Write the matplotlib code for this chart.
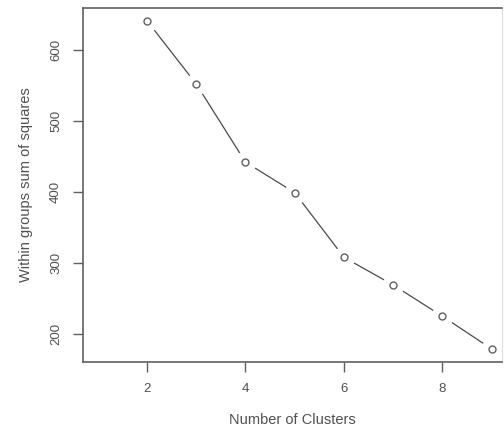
import matplotlib.pyplot as plt

plt.rcParams['font.family'] = ['Liberation Sans', 'DejaVu Sans']

# elbow curve
clusters = [2, 3, 4, 5, 6, 7, 8, 9]
wss = [641, 552, 442, 399, 308, 269, 225, 179]
xticks = [2, 4, 6, 8]
yticks = [200, 300, 400, 500, 600]

grey = '#606060'
txt = '#505050'

fig = plt.figure(figsize=(5.04, 4.37), dpi=100, facecolor='white')
ax = fig.add_axes([83/504, 75/437, 419/504, 354/437])

ax.plot(clusters, wss, '-', color='#4a4a4a', lw=0.9, zorder=1)
ax.plot(clusters, wss, 'o', ms=15, mfc='white', mec='white', zorder=2)
ax.plot(clusters, wss, 'o', ms=5, mfc='white', mec=grey, mew=1.0, zorder=3)

ax.set_xlim(0.7, 9.21)
ax.set_ylim(160.6, 659)
ax.set_xticks(xticks)
ax.set_yticks(yticks)
ax.set_yticklabels([str(v) for v in yticks], rotation=90, va='center')

for s in ax.spines.values():
    s.set_color(grey)
    s.set_linewidth(1.2)
ax.spines['right'].set_color('#dddddd')
ax.spines['right'].set_linewidth(0.8)

ax.tick_params(direction='out', length=7, width=1.0, color=grey,
               labelcolor=txt, labelsize=9.5, pad=8)

ax.set_xlabel('Number of Clusters', fontsize=10.5, color=txt, labelpad=13)
ax.set_ylabel('Within groups sum of squares', fontsize=10.5, color=txt, labelpad=12)

fig.savefig('out.png', dpi=100)
